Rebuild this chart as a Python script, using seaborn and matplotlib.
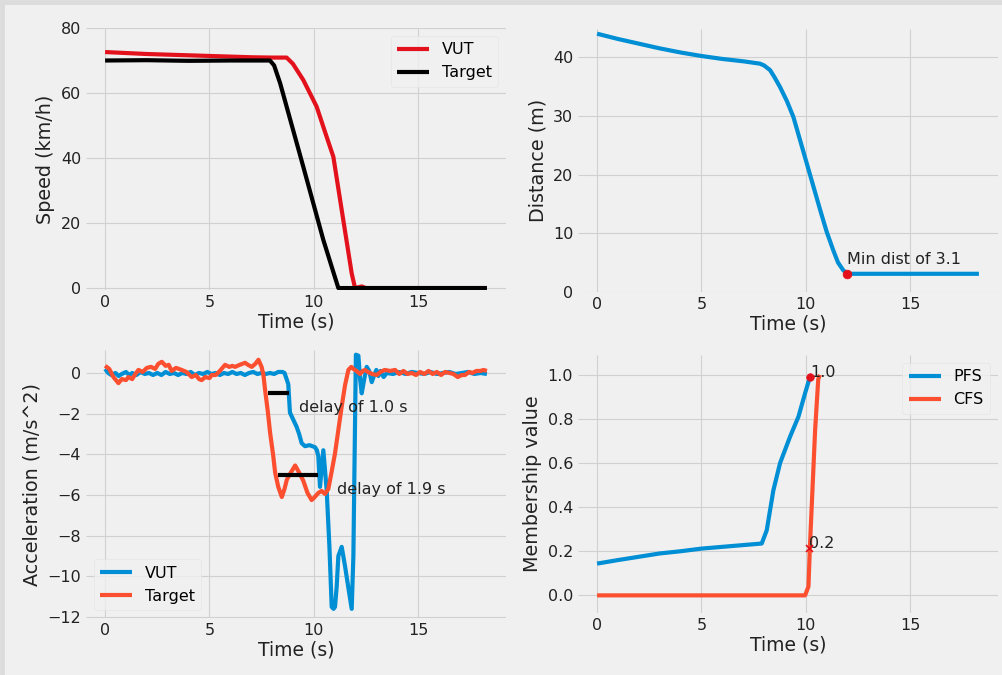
import matplotlib
matplotlib.use("Agg")
import matplotlib.pyplot as plt
from matplotlib.patches import Rectangle
import seaborn as sns
import numpy as np

# ---------------- data ----------------
speed_vut_t = [0, 1, 2, 3, 4, 5, 6, 7, 8, 8.7, 9.0, 9.5, 10.14, 10.62, 10.94, 11.4, 11.82, 11.98, 12.3, 12.5, 13, 18.3]
speed_vut_v = [72.6, 72.3, 72.0, 71.8, 71.6, 71.4, 71.2, 71.0, 70.9, 70.9, 69.0, 64.0, 55.8, 46.5, 40.4, 21.6, 4.5, 0.0, 0.5, 0.0, 0.0, 0.0]
speed_tgt_t = [0, 2, 4, 6, 7.9, 8.1, 8.39, 9.5, 10.46, 11.18, 12, 18.3]
speed_tgt_v = [70.0, 70.1, 69.9, 70.0, 70.0, 68.5, 63.0, 37.3, 14.8, 0.0, 0.0, 0.0]

dist_t = [0, 1, 2, 3, 4, 5, 6, 7, 7.8, 8.0, 8.29, 8.5, 8.77, 9.1, 9.41, 10.05, 10.69, 11.0, 11.32, 11.55, 11.8, 12.0, 12.5, 18.3]
dist_v = [44.0, 43.1, 42.3, 41.5, 40.8, 40.2, 39.7, 39.3, 38.9, 38.6, 37.8, 36.6, 34.9, 32.5, 29.8, 21.9, 14.0, 10.3, 7.1, 5.0, 3.7, 3.1, 3.1, 3.1]
min_dist_t = 12.0
min_dist_v = 3.1

acc_tgt_t = [0.0, 0.2, 0.4, 0.64, 0.8, 1.0, 1.12, 1.3, 1.45, 1.6, 1.8, 2.0, 2.2, 2.4, 2.55, 2.72, 2.9, 3.05, 3.19, 3.4,
             3.67, 3.9, 4.15, 4.35, 4.5, 4.63, 4.8, 5.0, 5.11, 5.3, 5.5, 5.75, 5.95, 6.1, 6.23, 6.45, 6.71, 6.85, 7.03, 7.2,
             7.35, 7.5, 7.59, 7.67, 7.8, 7.91, 8.05, 8.15, 8.3, 8.47, 8.6, 8.71, 8.9, 9.11, 9.3, 9.5, 9.7, 9.9, 10.05, 10.22,
             10.38, 10.54, 10.7, 10.85, 11.02, 11.18, 11.34, 11.5, 11.66, 11.8, 11.9, 12.05, 12.22, 12.35, 12.46, 12.6, 12.8,
             13.02, 13.2, 13.4, 13.66, 13.9, 14.1, 14.3, 14.5, 14.7, 14.9, 15.1, 15.3, 15.5, 15.7, 15.9, 16.1, 16.3, 16.5,
             16.7, 16.9, 17.1, 17.25, 17.45, 17.6, 17.8, 18.0, 18.13, 18.3]
acc_tgt_v = [0.35, 0.2, -0.2, -0.5, -0.3, -0.35, -0.2, -0.3, -0.05, 0.15, 0.05, 0.25, 0.3, 0.2, 0.45, 0.55, 0.35, 0.4, 0.1, 0.25,
             0.15, 0.05, -0.2, -0.1, -0.3, -0.35, -0.2, -0.25, -0.1, -0.1, 0.1, 0.4, 0.3, 0.35, 0.3, 0.4, 0.5, 0.4, 0.3, 0.45,
             0.65, 0.3, -0.1, -0.85, -1.9, -2.95, -4.0, -4.9, -5.6, -6.1, -5.7, -5.25, -4.9, -4.55, -4.9, -5.3, -5.9, -6.25, -6.1, -5.9,
             -5.8, -5.95, -5.7, -4.9, -3.95, -2.8, -1.65, -0.6, 0.15, 0.3, 0.2, 0.1, -0.05, 0.1, 0.15, 0.05, -0.05,
             -0.1, 0.05, 0.15, 0.1, 0.15, -0.05, 0.1, -0.05, 0.0, -0.1, 0.05, -0.05, 0.1, -0.05, 0.05, -0.1, 0.05, 0.0,
             -0.05, -0.2, -0.1, -0.1, 0.05, 0.0, 0.1, 0.1, 0.15, 0.1]

acc_vut_t = [0.0, 0.15, 0.3, 0.5, 0.65, 0.8, 1.0, 1.15, 1.3, 1.5, 1.7, 1.9, 2.1, 2.3, 2.5, 2.7, 2.9, 3.1, 3.3, 3.5,
             3.7, 3.9, 4.1, 4.3, 4.5, 4.7, 4.9, 5.1, 5.3, 5.5, 5.7, 5.9, 6.1, 6.3, 6.5, 6.7, 6.9, 7.1, 7.3, 7.5,
             7.7, 7.9, 8.1, 8.3, 8.5, 8.6, 8.7, 8.78, 8.86, 9.02, 9.18, 9.3, 9.42, 9.58, 9.8, 10.06, 10.15, 10.22, 10.3, 10.46,
             10.62, 10.75, 10.86, 10.95, 11.02, 11.1, 11.18, 11.34, 11.5, 11.65, 11.82, 11.9, 11.96, 12.02, 12.14, 12.22, 12.3, 12.42, 12.54, 12.66,
             12.78, 12.9, 13.0, 13.1, 13.2, 13.35, 13.5, 13.8, 14.1, 14.4, 14.7, 15.0, 15.3, 15.6, 15.9, 16.2, 16.5, 16.8, 17.1, 17.4,
             17.7, 18.0, 18.3]
acc_vut_v = [0.2, 0.0, -0.1, 0.0, -0.15, -0.05, 0.05, -0.1, 0.0, -0.1, 0.05, -0.05, 0.0, -0.1, 0.0, -0.1, 0.05, -0.05, 0.0, -0.1,
             0.0, -0.05, 0.05, -0.1, 0.0, -0.05, 0.05, -0.05, 0.0, -0.1, 0.0, -0.05, 0.05, -0.05, 0.0, -0.1, 0.0, 0.05, -0.05, 0.0,
             -0.05, 0.0, -0.05, 0.05, 0.05, 0.0, -0.3, -0.55, -1.95, -2.3, -2.65, -3.0, -3.45, -3.6, -3.55, -3.65, -3.8, -4.1, -5.6, -3.8,
             -5.75, -8.5, -11.5, -11.6, -11.5, -10.5, -9.0, -8.55, -9.5, -10.5, -11.6, -9.0, -4.0, 0.9, 0.85, -0.3, -1.0, -0.3, 0.3, 0.1,
             -0.45, -0.1, 0.15, -0.15, 0.1, -0.2, 0.0, -0.05, 0.05, -0.05, 0.05, 0.0, -0.05, 0.05, -0.05, 0.0, 0.05, -0.05, 0.0, 0.05,
             -0.05, 0.0, -0.05]

delay1_t = [7.8, 8.8]
delay1_v = [-1.0, -1.0]
delay2_t = [8.3, 10.2]
delay2_v = [-5.0, -5.0]

pfs_t = [0, 1, 2, 3, 4, 5, 6, 7, 7.89, 8.13, 8.45, 8.77, 9.25, 9.65, 9.97, 10.2]
pfs_v = [0.144, 0.16, 0.175, 0.19, 0.2, 0.212, 0.22, 0.228, 0.235, 0.295, 0.477, 0.6, 0.72, 0.81, 0.917, 0.99]
cfs_t = [0, 9.97, 10.13, 10.2, 10.45, 10.6, 10.68]
cfs_v = [0.0, 0.0, 0.04, 0.22, 0.75, 0.98, 1.0]
pfs_mark = (10.2, 0.99)
cfs_mark = (10.17, 0.217)

# ---------------- style ----------------
plt.style.use("fivethirtyeight")
plt.rcParams["font.family"] = ["DejaVu Sans"]
BLUE = "#008fd5"
ORANGE = "#fc4f30"
RED = "#e3111b"

W, H = 1002, 675
fig = plt.figure(figsize=(W / 100, H / 100), dpi=100)
fig.patch.set_facecolor("#f0f0f0")


def rect(l, t, r, b):
    return [l / W, 1 - b / H, (r - l) / W, (b - t) / H]


ax1 = fig.add_axes(rect(86, 28, 506, 290))
ax2 = fig.add_axes(rect(578, 29, 998, 292))
ax3 = fig.add_axes(rect(86, 350, 506, 618))
ax4 = fig.add_axes(rect(578, 355, 998, 613))

lw = 3.0
kw = dict(estimator=None, sort=False, linewidth=lw)
ANN = 11.5

# Speed
sns.lineplot(x=speed_vut_t, y=speed_vut_v, ax=ax1, color=RED, label="VUT", **kw)
sns.lineplot(x=speed_tgt_t, y=speed_tgt_v, ax=ax1, color="black", label="Target", **kw)
ax1.set_ylim(-0.6, 80)
ax1.set_yticks([0, 20, 40, 60, 80])
ax1.set_ylabel("Speed (km/h)")
ax1.legend(loc="upper right", fontsize=11.5)

# Distance
sns.lineplot(x=dist_t, y=dist_v, ax=ax2, color=BLUE, **kw)
ax2.scatter([min_dist_t], [min_dist_v], color=RED, s=40, zorder=5)
ax2.text(min_dist_t, min_dist_v + 1.6, "Min dist of 3.1", fontsize=ANN, color="#222222")
ax2.set_ylim(0, 44.8)
ax2.set_yticks([0, 10, 20, 30, 40])
ax2.set_ylabel("Distance (m)")

# Acceleration
sns.lineplot(x=acc_vut_t, y=acc_vut_v, ax=ax3, color=BLUE, label="VUT", **kw)
sns.lineplot(x=acc_tgt_t, y=acc_tgt_v, ax=ax3, color=ORANGE, label="Target", **kw)
sns.lineplot(x=delay1_t, y=delay1_v, ax=ax3, color="black", **kw)
sns.lineplot(x=delay2_t, y=delay2_v, ax=ax3, color="black", **kw)
ax3.text(9.3, -1.72, "delay of 1.0 s", fontsize=ANN, va="center", color="#222222")
ax3.text(11.13, -5.75, "delay of 1.9 s", fontsize=ANN, va="center", color="#222222")
ax3.set_ylim(-12.05, 1.13)
ax3.set_yticks([-12, -10, -8, -6, -4, -2, 0])
ax3.set_ylabel("Acceleration (m/s^2)")
ax3.legend(loc="lower left", fontsize=11.5)

# Membership
sns.lineplot(x=pfs_t, y=pfs_v, ax=ax4, color=BLUE, label="PFS", **kw)
sns.lineplot(x=cfs_t, y=cfs_v, ax=ax4, color=ORANGE, label="CFS", **kw)
ax4.scatter([pfs_mark[0]], [pfs_mark[1]], color=RED, s=30, zorder=5)
ax4.scatter([cfs_mark[0]], [cfs_mark[1]], color=RED, marker="x", s=25, linewidths=1.2, zorder=5)
ax4.text(pfs_mark[0], pfs_mark[1], "1.0", fontsize=ANN, color="#222222")
ax4.text(cfs_mark[0], cfs_mark[1], "0.2", fontsize=ANN, color="#222222")
ax4.set_ylim(-0.08, 1.09)
ax4.set_yticks([0.0, 0.2, 0.4, 0.6, 0.8, 1.0])
ax4.set_ylabel("Membership value")
ax4.legend(loc="upper right", fontsize=11.5)

for ax in (ax1, ax2, ax3, ax4):
    ax.set_xlim(-0.915, 19.215)
    ax.set_xticks([0, 5, 10, 15])
    ax.set_xlabel("Time (s)", fontsize=13.5, labelpad=2, color="#222222")
    ax.yaxis.label.set_fontsize(13.8)
    ax.yaxis.label.set_color("#222222")
    ax.tick_params(labelsize=11.5, colors="#222222")
    ax.set_facecolor("#f0f0f0")
    ax.grid(True, color="#d0d0d0", linewidth=0.8)
    for s in ax.spines.values():
        s.set_visible(False)
    leg = ax.get_legend()
    if leg is not None:
        leg.get_frame().set_edgecolor("#e2e2e2")

# light screenshot frame on top and left
fig.add_artist(Rectangle((0, 1 - 4 / H), 1, 4 / H, transform=fig.transFigure, color="#dcdcdc", zorder=-1))
fig.add_artist(Rectangle((0, 0), 4 / W, 1, transform=fig.transFigure, color="#dcdcdc", zorder=-1))

fig.savefig("out.png", dpi=100, facecolor=fig.get_facecolor())
